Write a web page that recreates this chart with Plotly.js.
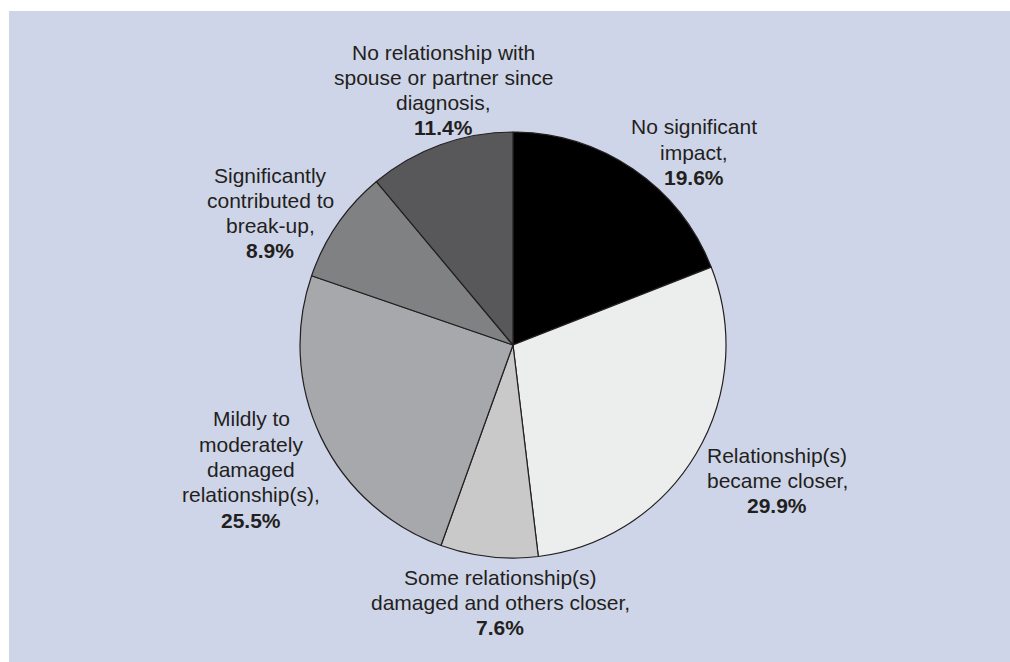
<!DOCTYPE html>
<html>
<head>
<meta charset="utf-8">
<script src="https://cdn.plot.ly/plotly-3.0.1.min.js"></script>
<style>
html,body{margin:0;padding:0;background:#ffffff;overflow:hidden;}
#bg{position:fixed;left:9px;top:11px;right:0;bottom:0;min-width:1001px;min-height:651px;background:#cfd5e8;}
#chart{position:absolute;left:9px;top:11px;width:1001px;height:651px;}
</style>
</head>
<body>
<div id="bg"></div>
<div id="chart"></div>
<script>
// Data
var categories = [
  "No significant impact",
  "Relationship(s) became closer",
  "Some relationship(s) damaged and others closer",
  "Mildly to moderately damaged relationship(s)",
  "Significantly contributed to break-up",
  "No relationship with spouse or partner since diagnosis"
];
var values = [19.6, 29.9, 7.6, 25.5, 8.9, 11.4];
var labelLines = [
  ["No significant", "impact,"],
  ["Relationship(s)", "became closer,"],
  ["Some relationship(s)", "damaged and others closer,"],
  ["Mildly to", "moderately", "damaged", "relationship(s),"],
  ["Significantly", "contributed to", "break-up,"],
  ["No relationship with", "spouse or partner since", "diagnosis,"]
];
var sliceColors = ["#000000", "#eceeee", "#c9c9c9", "#a7a8ab", "#808183", "#58585a"];

// Layout settings (label block centres in page pixels: x, first-line y)
var labelPos = [[694, 127], [777, 455], [500, 577], [251, 419], [270, 175], [443, 52]];
var lineStep = 25.3;
var offX = 9, offY = 11, W = 1001, H = 651;

var annotations = [];
labelLines.forEach(function (lines, i) {
  var all = lines.concat(["<b>" + values[i].toFixed(1) + "%</b>"]);
  all.forEach(function (t, j) {
    var px = labelPos[i][0], py = labelPos[i][1] + j * lineStep;
    annotations.push({
      text: t, showarrow: false, xref: "paper", yref: "paper",
      x: (px - offX) / W, y: 1 - (py - offY) / H,
      xanchor: "center", yanchor: "middle",
      font: {family: "Liberation Sans, Arial, sans-serif", size: 21, color: "#231f20"}
    });
  });
});

var cx = 513 - offX, cy = 345 - offY, r = 213;
var trace = {
  type: "pie",
  labels: categories,
  values: values,
  sort: false,
  direction: "clockwise",
  rotation: 0,
  textinfo: "none",
  hoverinfo: "label+percent",
  marker: {colors: sliceColors, line: {color: "#231f20", width: 1.2}},
  domain: {x: [(cx - r) / W, (cx + r) / W], y: [(H - cy - r) / H, (H - cy + r) / H]},
  showlegend: false
};

var layout = {
  width: W, height: H,
  margin: {l: 0, r: 0, t: 0, b: 0},
  paper_bgcolor: "#cfd5e8",
  plot_bgcolor: "#cfd5e8",
  showlegend: false,
  annotations: annotations
};

Plotly.newPlot("chart", [trace], layout, {displayModeBar: false, staticPlot: true});
</script>
</body>
</html>
